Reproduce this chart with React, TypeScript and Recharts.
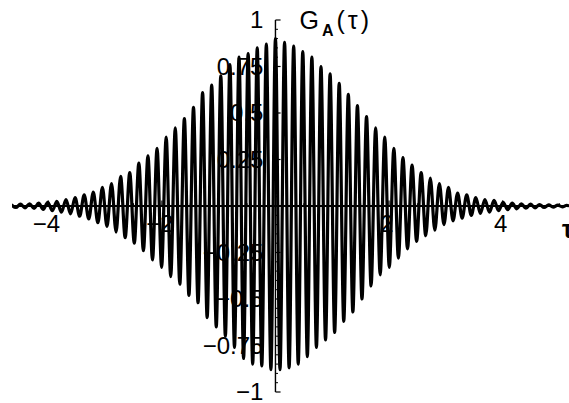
import { LineChart, Line, XAxis, YAxis, ReferenceLine } from 'recharts';

// half-period of the oscillation, in tau units
const HALF_PERIOD = 0.0802;
const FIRST_PEAK = -29; // index of the left-most maximum (tau = k * 2 * HALF_PERIOD)

const X_MIN = -4.64;
const X_MAX = 5.17;

// maxima, left to right
const peaks = [
  0.008, 0.01, 0.012, 0.015, 0.02, 0.025, 0.035, 0.045, 0.06, 0.075,
  0.1, 0.12, 0.16, 0.18, 0.23, 0.27, 0.31, 0.37, 0.42, 0.47,
  0.53, 0.61, 0.65, 0.7, 0.76, 0.8, 0.82, 0.85, 0.87, 0.9,
  0.88, 0.86, 0.83, 0.8, 0.75, 0.71, 0.66, 0.6, 0.54, 0.48,
  0.42, 0.37, 0.31, 0.26, 0.22, 0.18, 0.15, 0.12, 0.1, 0.07,
  0.06, 0.045, 0.035, 0.03, 0.02, 0.015, 0.012, 0.01, 0.008, 0.006,
  0.005, 0.004,
];

// minima, left to right (each sits half a period after the matching maximum)
const troughs = [
  -0.008, -0.01, -0.013, -0.018, -0.025, -0.033, -0.042, -0.055, -0.07, -0.09,
  -0.11, -0.14, -0.17, -0.2, -0.24, -0.29, -0.33, -0.38, -0.42, -0.48,
  -0.52, -0.6, -0.65, -0.7, -0.76, -0.82, -0.85, -0.86, -0.88, -0.88,
  -0.87, -0.85, -0.81, -0.76, -0.72, -0.68, -0.62, -0.57, -0.5, -0.43,
  -0.37, -0.33, -0.28, -0.23, -0.19, -0.16, -0.13, -0.1, -0.08, -0.065,
  -0.05, -0.04, -0.033, -0.025, -0.02, -0.015, -0.012, -0.01, -0.008, -0.006,
  -0.005,
];

const xTicks = [-4, -2, 2, 4];
const xTickLabels = ['\u22124', '\u22122', '2', '4'];
const xMinorTicks = [-4.5, -3.5, -3, -2.5, -1.5, -1, -0.5, 0.5, 1, 1.5, 2.5, 3, 3.5, 4.5, 5];

const yTicks = [-1, -0.75, -0.5, -0.25, 0.25, 0.5, 0.75, 1];
const yTickLabels = ['\u22121', '\u22120.75', '\u22120.5', '\u22120.25', '0.25', '0.5', '0.75', '1'];
const yMinorTicks = [
  -0.95, -0.9, -0.85, -0.8, -0.7, -0.65, -0.6, -0.55, -0.45, -0.4, -0.35, -0.3,
  -0.2, -0.15, -0.1, -0.05, 0.05, 0.1, 0.15, 0.2, 0.3, 0.35, 0.4, 0.45,
  0.55, 0.6, 0.65, 0.7, 0.8, 0.85, 0.9, 0.95,
];

const FONT = '"Liberation Sans", Arial, Helvetica, sans-serif';
const FONT_SIZE = 24;

// interleave maxima and minima into one series
const data: { tau: number; g: number }[] = [{ tau: X_MIN, g: 0 }];
peaks.forEach((p, i) => {
  const k = FIRST_PEAK + i;
  data.push({ tau: 2 * k * HALF_PERIOD, g: p });
  if (i < troughs.length) data.push({ tau: (2 * k + 1) * HALF_PERIOD, g: troughs[i] });
});
data.push({ tau: X_MAX, g: 0 });

const yLabel = (text: string) => (props: any) => {
  const { x, y, height } = props.viewBox;
  return (
    <text x={x - 12} y={y + height / 2 + 8} textAnchor="end"
      fontSize={FONT_SIZE} fontFamily={FONT} fill="#000">
      {text}
    </text>
  );
};

const xLabel = (text: string) => (props: any) => {
  const { x, y } = props.viewBox;
  return (
    <text x={x - 2} y={y + 32} textAnchor="middle" fontSize={FONT_SIZE} fontFamily={FONT} fill="#000">
      {text}
    </text>
  );
};

const axisTitle = (props: any) => {
  const { x, y } = props.viewBox;
  return (
    <text x={x + 24} y={y + 9} fontSize={25} fontFamily={FONT} fill="#000" letterSpacing={3}>
      G
      <tspan fontSize={16} fontWeight="bold" dy={7}>A</tspan>
      <tspan fontSize={25} dy={-7}>(τ)</tspan>
    </text>
  );
};

const tauLabel = (props: any) => {
  const { x, y, width } = props.viewBox;
  return (
    <text x={x + width - 7} y={y + 32} fontSize={25} fontWeight="bold" fontFamily={FONT} fill="#000">
      τ
    </text>
  );
};

export default function App() {
  return (
    <div style={{ position: 'absolute', left: 0, top: 0, width: 569, height: 403, background: '#fff' }}>
      <LineChart width={569} height={403} data={data}
        margin={{ top: 10.7, right: 0, bottom: 1.7, left: 12 }}>
        <XAxis type="number" dataKey="tau" domain={[X_MIN, X_MAX]} allowDataOverflow hide />
        <YAxis type="number" domain={[-1.05, 1.05]} allowDataOverflow hide />

        {/* axes through the origin */}
        <ReferenceLine y={0} stroke="#000" strokeWidth={1.8} label={tauLabel} />
        <ReferenceLine segment={[{ x: 0, y: -1 }, { x: 0, y: 1 }]} stroke="#000" strokeWidth={1.4}
          label={axisTitle} />

        {yTicks.map((v, i) => (
          <ReferenceLine key={`yt${v}`} segment={[{ x: 0, y: v }, { x: 0.09, y: v }]}
            stroke="#000" strokeWidth={1.2} label={yLabel(yTickLabels[i])} />
        ))}
        {yMinorTicks.map(v => (
          <ReferenceLine key={`ym${v}`} segment={[{ x: 0, y: v }, { x: 0.045, y: v }]}
            stroke="#000" strokeWidth={1} />
        ))}
        {xTicks.map((t, i) => (
          <ReferenceLine key={`xt${t}`} segment={[{ x: t, y: 0 }, { x: t, y: 0.03 }]}
            stroke="#000" strokeWidth={1.2} label={xLabel(xTickLabels[i])} />
        ))}
        {xMinorTicks.map(t => (
          <ReferenceLine key={`xm${t}`} segment={[{ x: t, y: 0 }, { x: t, y: 0.015 }]}
            stroke="#000" strokeWidth={1} />
        ))}

        <Line type="monotone" dataKey="g" stroke="#000" strokeWidth={3.2} dot={false}
          isAnimationActive={false} />
      </LineChart>
    </div>
  );
}
